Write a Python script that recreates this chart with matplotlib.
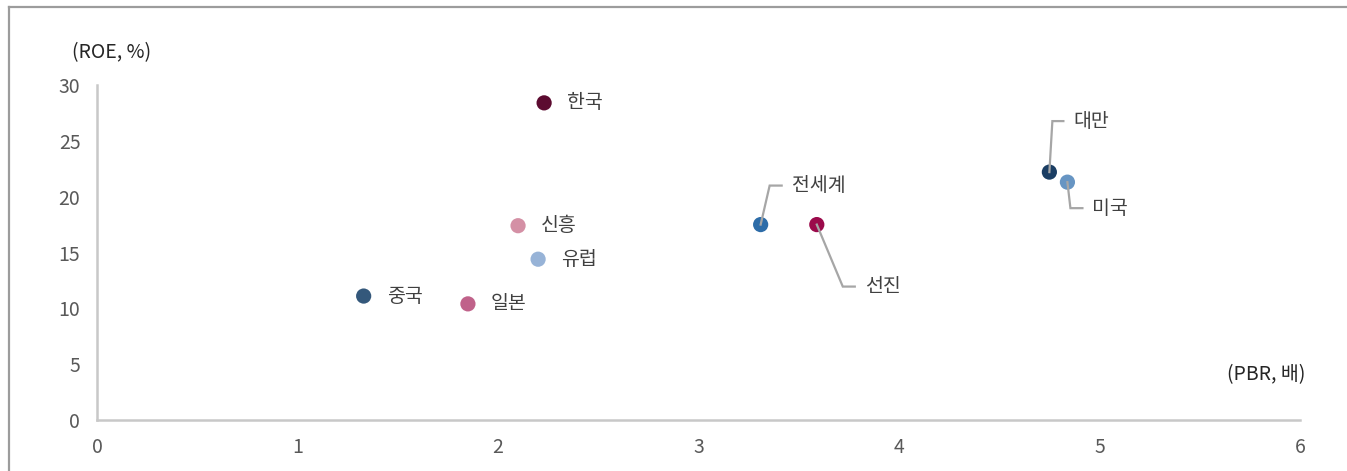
import matplotlib.pyplot as plt
from matplotlib.lines import Line2D
from matplotlib.transforms import ScaledTranslation

plt.rcParams['font.family'] = ['Noto Sans CJK KR', 'DejaVu Sans']

# PBR (x) vs ROE (y) by market
names = ['한국', '신흥', '유럽', '중국', '일본', '전세계', '선진', '대만', '미국']
pbr = [2.23, 2.10, 2.20, 1.33, 1.85, 3.31, 3.59, 4.75, 4.84]
roe = [28.4, 17.4, 14.4, 11.1, 10.4, 17.5, 17.5, 22.2, 21.3]
colors = ['#5c0b30', '#d490a5', '#97b3d7', '#34587b', '#c0628a',
          '#2d6ca8', '#9b0a4b', '#1b3e63', '#6795c3']

# leader lines in pixels from the dot: (elbow dx, elbow dy, line end dx)
leaders = {
    '전세계': (9, 39, 21),
    '선진': (26, -62, 38),
    '대만': (3, 51, 14),
    '미국': (3, -26, 15),
}

fig = plt.figure(figsize=(13.47, 4.71), dpi=100)
ax = fig.add_axes([97 / 1347, 1 - 420 / 471, 1203 / 1347, 335 / 471])
ax.set_xlim(0, 6)
ax.set_ylim(0, 30)

ax.scatter(pbr, roe, s=120, c=colors, zorder=3, linewidths=0)

grey = '#a6a6a6'
px = 1 / fig.dpi
for n, x, y in zip(names, pbr, roe):
    # offsets in inches, anchored at the data point
    anchor = fig.dpi_scale_trans + ScaledTranslation(x, y, ax.transData)
    if n in leaders:
        ex, ey, hx = leaders[n]
        ax.plot([0, ex * px, hx * px], [0, ey * px, ey * px], color=grey,
                lw=1.6, zorder=4, transform=anchor, solid_joinstyle='miter')
        tx, ty = hx + 10, ey
    else:
        tx, ty = 23, 0
    ax.text(tx * px, ty * px, n, fontsize=14, color='#404040', va='center',
            ha='left', transform=anchor)

ax.set_xticks(range(0, 7))
ax.set_yticks(range(0, 31, 5))
ax.tick_params(length=0, labelsize=14, labelcolor='#595959', pad=12)
for s in ['top', 'right']:
    ax.spines[s].set_visible(False)
for s in ['left', 'bottom']:
    ax.spines[s].set_color('#c8c8c8')
    ax.spines[s].set_linewidth(1.8)

fig.text(72 / 1347, 1 - 53 / 471, '(ROE, %)', fontsize=14, color='#262626',
         va='center', ha='left')
fig.text(1305 / 1347, 1 - 375 / 471, '(PBR, 배)', fontsize=14, color='#262626',
         va='center', ha='right')

# outer frame along top and left edges
fig.add_artist(Line2D([8.5 / 1347, 8.5 / 1347], [0, 1 - 6.5 / 471],
                      transform=fig.transFigure, color='#9c9c9c', lw=1.6))
fig.add_artist(Line2D([8.5 / 1347, 1], [1 - 6.5 / 471, 1 - 6.5 / 471],
                      transform=fig.transFigure, color='#9c9c9c', lw=1.6))

fig.savefig('out.png', dpi=100)
